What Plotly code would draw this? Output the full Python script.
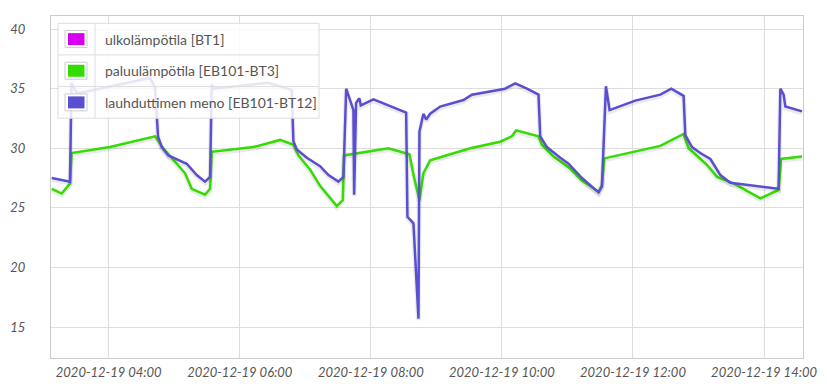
import plotly.graph_objects as go

# page body adds an 8px margin; figure coords are screen coords minus OFF
OFF = 8
W, H = 811, 373
L, R, T, B = 51, 803, 15.7, 358  # plot area in screen pixels

# ---- data ----
series_names = ["ulkolämpötila [BT1]", "paluulämpötila [EB101-BT3]", "lauhduttimen meno [EB101-BT12]"]
series_colors = ["#d600ee", "#33dd00", "#5b4fd1"]

bt1_time = []
bt1_vals = []

bt3_time = ["03:07:50", "03:17:00", "03:24:35", "03:26:05", "04:01:10", "04:42:25", "04:50:00",
            "05:09:55", "05:16:00", "05:28:10", "05:32:50", "05:34:20", "06:12:30", "06:36:55",
            "06:49:05", "06:53:40", "07:04:25", "07:13:30", "07:28:50", "07:34:20", "07:35:30",
            "08:16:05", "08:35:20", "08:39:40", "08:44:30", "08:48:10", "08:54:20", "09:31:00",
            "09:58:25", "10:09:05", "10:13:05", "10:33:30", "10:36:35", "10:47:15", "11:02:35",
            "11:13:15", "11:28:30", "11:31:35", "11:33:40", "12:25:00", "12:46:20", "12:50:55",
            "13:07:50", "13:16:55", "13:32:05", "13:56:35", "14:13:20", "14:15:35", "14:34:50"]
bt3_vals = [26.6, 26.2, 27.05, 29.6, 30.1, 31.0, 30.0,
            27.9, 26.6, 26.1, 26.6, 29.7, 30.1, 30.7,
            30.3, 29.4, 28.2, 26.85, 25.15, 25.65, 29.4,
            30.0, 29.5, 27.5, 25.65, 27.9, 29.0, 30.0,
            30.55, 31.0, 31.5, 31.0, 30.3, 29.3, 28.3,
            27.3, 26.35, 26.9, 29.15, 30.2, 31.2, 30.0,
            28.6, 27.6, 27.05, 25.8, 26.5, 29.1, 29.3]

bt12_time = ["03:07:50", "03:24:35", "03:25:55", "03:31:00", "04:37:50", "04:42:25", "04:45:10",
             "04:48:30", "04:54:35", "05:11:25", "05:20:35", "05:28:10", "05:32:50", "05:34:20",
             "05:35:50", "06:26:10", "06:47:35", "06:49:05", "06:52:10", "07:01:25", "07:13:30",
             "07:21:10", "07:30:20", "07:34:55", "07:37:25", "07:42:35", "07:44:03", "07:44:42",
             "07:46:30", "07:49:30", "07:50:48", "08:02:24", "08:32:20", "08:33:30", "08:39:00",
             "08:43:36", "08:44:30", "08:48:10", "08:50:40", "08:54:20", "09:03:30", "09:24:50",
             "09:32:30", "10:03:00", "10:12:10", "10:22:55", "10:33:30", "10:35:05", "10:41:10",
             "10:53:25", "11:01:00", "11:13:15", "11:28:30", "11:31:35", "11:35:15", "11:38:35",
             "11:57:30", "12:02:05", "12:25:00", "12:35:05", "12:46:20", "12:47:55", "12:54:00",
             "13:01:35", "13:10:50", "13:20:00", "13:29:05", "14:13:20", "14:14:55", "14:17:55",
             "14:19:30", "14:34:50"]
bt12_vals = [27.5, 27.2, 35.5, 34.6, 35.9, 35.1, 31.0,
             30.1, 29.4, 28.7, 27.75, 27.2, 27.6, 35.4,
             35.0, 35.5, 34.9, 30.6, 29.9, 29.2, 28.5,
             27.75, 27.2, 27.6, 35.0, 33.5, 33.2, 26.1,
             33.8, 34.2, 33.6, 34.1, 33.0, 24.25, 23.7,
             15.7, 31.4, 32.9, 32.4, 32.9, 33.5, 34.05,
             34.5, 35.0, 35.45, 35.0, 34.5, 31.0, 30.1,
             29.2, 28.7, 27.5, 26.3, 26.8, 35.2, 33.2,
             33.8, 34.0, 34.5, 35.0, 34.4, 31.1, 30.1,
             29.6, 29.1, 27.75, 27.1, 26.6, 35.0, 34.5,
             33.5, 33.1]

y_ticks = [15, 20, 25, 30, 35, 40]
x_ticks = ["04:00", "06:00", "08:00", "10:00", "12:00", "14:00"]
day = "2020-12-19"

def ts(t):
    return f"{day} {t}"

FONT = "Lato"
TXT = "#555555"

fig = go.Figure()
all_times = [bt1_time, bt3_time, bt12_time]
all_vals = [bt1_vals, bt3_vals, bt12_vals]
for name, col, tt, vv in zip(series_names, series_colors, all_times, all_vals):
    x = [ts(t) for t in tt]
    # soft shadow under the line
    fig.add_trace(go.Scatter(x=x, y=[v - 0.12 for v in vv], mode="lines", hoverinfo="skip",
                             line=dict(color="rgba(0,0,0,0.08)", width=5), showlegend=False))
    fig.add_trace(go.Scatter(x=x, y=vv, mode="lines", name=name,
                             line=dict(color=col, width=2.5), showlegend=False))

# ---- custom legend (table-like box), positions given in screen pixels ----
def px(xp):
    return (xp - L) / (R - L)

def py(yp):
    return (B - yp) / (B - T)

shapes = []
annotations = []
box_l, box_r, box_t, box_b = 58, 319, 23, 118
row_h = (box_b - box_t) / 3
shapes.append(dict(type="rect", xref="paper", yref="paper", x0=px(box_l), x1=px(box_r),
                   y0=py(box_b), y1=py(box_t), fillcolor="rgba(255,255,255,0.85)",
                   line=dict(color="#dddddd", width=1), layer="above"))
for i in range(1, 3):
    yy = box_t + i * row_h
    shapes.append(dict(type="line", xref="paper", yref="paper", x0=px(box_l), x1=px(box_r),
                       y0=py(yy), y1=py(yy), line=dict(color="#dddddd", width=1), layer="above"))
shapes.append(dict(type="line", xref="paper", yref="paper", x0=px(95), x1=px(95),
                   y0=py(box_b), y1=py(box_t), line=dict(color="#dddddd", width=1), layer="above"))
for i, (name, col) in enumerate(zip(series_names, series_colors)):
    cy = box_t + (i + 0.5) * row_h
    shapes.append(dict(type="rect", xref="paper", yref="paper", x0=px(65), x1=px(87),
                       y0=py(cy + 8.5), y1=py(cy - 8.5), fillcolor="white",
                       line=dict(color="#cccccc", width=1), layer="above"))
    shapes.append(dict(type="rect", xref="paper", yref="paper", x0=px(68), x1=px(84.5),
                       y0=py(cy + 6), y1=py(cy - 6), fillcolor=col,
                       line=dict(width=0), layer="above"))
    annotations.append(dict(text=name, xref="paper", yref="paper", x=px(103), y=py(cy),
                            xanchor="left", yanchor="middle", showarrow=False,
                            font=dict(family=FONT, size=14, color=TXT)))

fig.update_layout(
    width=W, height=H,
    margin=dict(l=L - OFF, r=W - (R - OFF), t=T - OFF, b=H - (B - OFF), pad=0),
    paper_bgcolor="white", plot_bgcolor="white",
    shapes=shapes, annotations=annotations,
    showlegend=False,
)
fig.update_xaxes(
    type="date", automargin=False,
    range=[ts("03:07:10"), ts("14:35:40")],
    tickvals=[ts(t) for t in x_ticks],
    ticktext=[f"{day} {t}" for t in x_ticks],
    showgrid=True, gridcolor="#dddddd", gridwidth=1,
    showline=True, linecolor="#cccccc", linewidth=1, mirror=True,
    zeroline=False, ticks="", ticklabelstandoff=2,
    tickfont=dict(family=FONT, size=13, color=TXT, style="italic"),
)
fig.update_yaxes(
    range=[12.4, 41.1], automargin=False,
    tickvals=y_ticks,
    showgrid=True, gridcolor="#dddddd", gridwidth=1,
    showline=True, linecolor="#cccccc", linewidth=1, mirror=True,
    zeroline=False, ticks="",
    ticklabelstandoff=22,
    tickfont=dict(family=FONT, size=13, color=TXT, style="italic"),
)

fig.write_html("out.html")
